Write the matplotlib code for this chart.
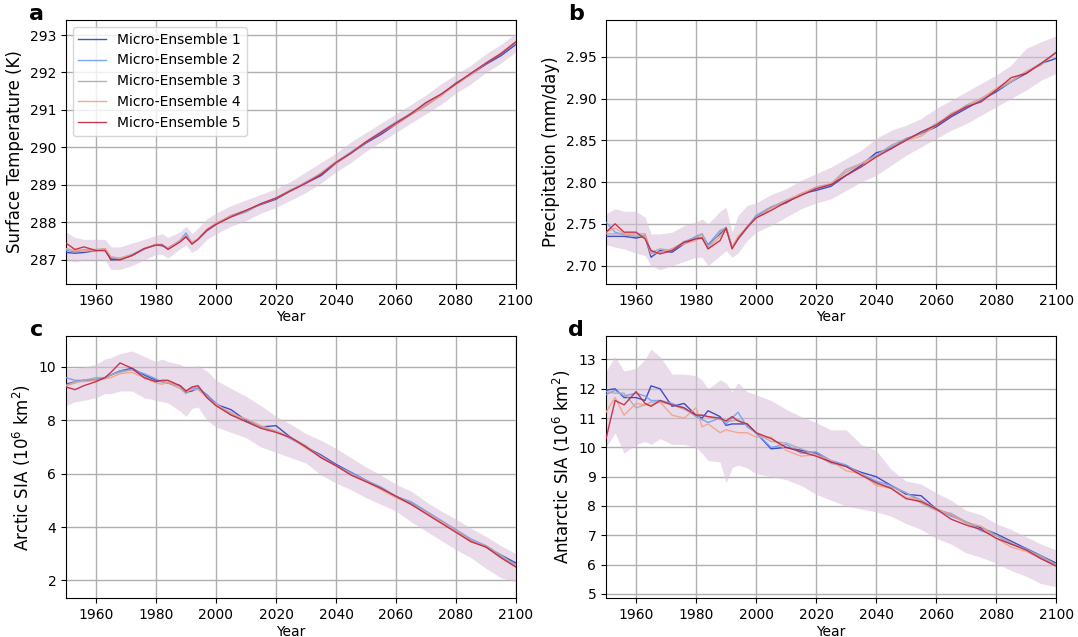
import matplotlib
matplotlib.use("Agg")
import matplotlib.pyplot as plt
import numpy as np

years = [1950, 1953, 1956, 1960, 1963, 1965, 1968, 1972, 1976, 1980, 1982, 1984, 1988, 1990,
         1992, 1994, 1997, 2000, 2005, 2010, 2015, 2020, 2025, 2030, 2035, 2040, 2045, 2050,
         2055, 2060, 2065, 2070, 2075, 2080, 2085, 2090, 2095, 2100]

labels = ["Micro-Ensemble 1", "Micro-Ensemble 2", "Micro-Ensemble 3",
          "Micro-Ensemble 4", "Micro-Ensemble 5"]

# ---- panel a: surface temperature (K)
tas_me1 = [287.20, 287.18, 287.20, 287.25, 287.28, 287.00, 287.02, 287.12, 287.30, 287.40, 287.38, 287.32, 287.50, 287.62, 287.45, 287.55, 287.78, 287.95, 288.18, 288.32, 288.48, 288.62, 288.85, 289.05, 289.25, 289.58, 289.85, 290.12, 290.35, 290.62, 290.88, 291.12, 291.40, 291.72, 291.95, 292.22, 292.45, 292.75]
tas_me2 = [287.25, 287.22, 287.25, 287.25, 287.30, 287.05, 287.02, 287.12, 287.28, 287.42, 287.40, 287.30, 287.52, 287.72, 287.45, 287.55, 287.80, 287.98, 288.15, 288.28, 288.50, 288.65, 288.85, 289.08, 289.30, 289.60, 289.88, 290.15, 290.42, 290.68, 290.90, 291.18, 291.42, 291.70, 291.95, 292.25, 292.50, 292.82]
tas_me3 = [287.30, 287.25, 287.28, 287.28, 287.30, 287.08, 287.05, 287.15, 287.30, 287.40, 287.42, 287.30, 287.50, 287.65, 287.45, 287.55, 287.80, 287.95, 288.15, 288.30, 288.50, 288.65, 288.88, 289.05, 289.32, 289.62, 289.85, 290.15, 290.40, 290.65, 290.92, 291.15, 291.40, 291.70, 291.98, 292.25, 292.52, 292.82]
tas_me4 = [287.30, 287.25, 287.25, 287.25, 287.30, 287.08, 287.05, 287.12, 287.30, 287.42, 287.40, 287.32, 287.50, 287.65, 287.48, 287.55, 287.82, 287.98, 288.18, 288.32, 288.50, 288.65, 288.85, 289.05, 289.30, 289.58, 289.85, 290.15, 290.40, 290.62, 290.88, 291.12, 291.38, 291.68, 291.95, 292.25, 292.52, 292.82]
tas_me5 = [287.45, 287.28, 287.35, 287.25, 287.25, 287.02, 287.00, 287.12, 287.30, 287.40, 287.40, 287.28, 287.48, 287.62, 287.42, 287.55, 287.80, 287.95, 288.15, 288.32, 288.50, 288.65, 288.85, 289.05, 289.28, 289.60, 289.85, 290.15, 290.40, 290.65, 290.90, 291.20, 291.42, 291.70, 291.98, 292.25, 292.50, 292.82]
tas_lo = [287.00, 286.95, 287.00, 287.00, 287.00, 286.75, 286.75, 286.85, 287.00, 287.15, 287.15, 287.05, 287.30, 287.40, 287.20, 287.30, 287.55, 287.70, 287.90, 288.05, 288.25, 288.40, 288.60, 288.80, 289.05, 289.35, 289.60, 289.90, 290.15, 290.40, 290.65, 290.90, 291.15, 291.45, 291.70, 292.00, 292.25, 292.55]
tas_hi = [287.75, 287.60, 287.55, 287.55, 287.55, 287.35, 287.35, 287.45, 287.55, 287.65, 287.70, 287.60, 287.75, 287.90, 287.70, 287.85, 288.10, 288.25, 288.45, 288.60, 288.75, 288.90, 289.10, 289.35, 289.60, 289.85, 290.15, 290.40, 290.65, 290.90, 291.15, 291.40, 291.70, 291.95, 292.20, 292.50, 292.75, 293.05]

# ---- panel b: precipitation (mm/day)
pr_me1 = [2.735, 2.735, 2.735, 2.733, 2.735, 2.710, 2.718, 2.716, 2.726, 2.733, 2.733, 2.725, 2.738, 2.745, 2.722, 2.732, 2.745, 2.758, 2.770, 2.775, 2.786, 2.790, 2.795, 2.808, 2.820, 2.835, 2.840, 2.852, 2.858, 2.866, 2.878, 2.888, 2.898, 2.908, 2.920, 2.930, 2.942, 2.948]
pr_me2 = [2.752, 2.740, 2.737, 2.735, 2.736, 2.715, 2.716, 2.720, 2.728, 2.735, 2.738, 2.725, 2.742, 2.745, 2.722, 2.733, 2.746, 2.760, 2.770, 2.778, 2.785, 2.792, 2.797, 2.812, 2.822, 2.832, 2.842, 2.850, 2.860, 2.868, 2.882, 2.890, 2.897, 2.910, 2.920, 2.932, 2.942, 2.955]
pr_me3 = [2.738, 2.738, 2.738, 2.738, 2.738, 2.716, 2.720, 2.718, 2.729, 2.733, 2.738, 2.722, 2.740, 2.746, 2.722, 2.732, 2.745, 2.758, 2.770, 2.776, 2.786, 2.794, 2.798, 2.815, 2.822, 2.832, 2.844, 2.852, 2.858, 2.870, 2.880, 2.892, 2.900, 2.910, 2.920, 2.932, 2.940, 2.956]
pr_me4 = [2.740, 2.745, 2.738, 2.736, 2.735, 2.714, 2.716, 2.720, 2.726, 2.730, 2.735, 2.720, 2.735, 2.744, 2.722, 2.735, 2.746, 2.757, 2.768, 2.778, 2.786, 2.793, 2.798, 2.812, 2.822, 2.830, 2.840, 2.850, 2.855, 2.868, 2.882, 2.890, 2.900, 2.912, 2.922, 2.932, 2.942, 2.955]
pr_me5 = [2.740, 2.750, 2.740, 2.740, 2.732, 2.718, 2.714, 2.718, 2.728, 2.732, 2.733, 2.720, 2.730, 2.745, 2.720, 2.732, 2.746, 2.757, 2.766, 2.776, 2.784, 2.792, 2.797, 2.808, 2.818, 2.830, 2.840, 2.850, 2.860, 2.868, 2.880, 2.890, 2.896, 2.910, 2.925, 2.930, 2.942, 2.955]
pr_lo = [2.725, 2.722, 2.720, 2.715, 2.712, 2.700, 2.695, 2.700, 2.705, 2.710, 2.710, 2.700, 2.712, 2.718, 2.710, 2.715, 2.730, 2.740, 2.748, 2.758, 2.768, 2.775, 2.780, 2.790, 2.800, 2.808, 2.820, 2.832, 2.842, 2.852, 2.862, 2.870, 2.880, 2.890, 2.900, 2.910, 2.922, 2.930]
pr_hi = [2.762, 2.768, 2.765, 2.765, 2.758, 2.738, 2.738, 2.740, 2.748, 2.752, 2.756, 2.750, 2.765, 2.770, 2.740, 2.760, 2.772, 2.775, 2.785, 2.792, 2.802, 2.810, 2.818, 2.828, 2.838, 2.852, 2.862, 2.868, 2.876, 2.888, 2.898, 2.908, 2.918, 2.928, 2.940, 2.960, 2.968, 2.975]

# ---- panel c: Arctic sea-ice area (10^6 km^2)
arc_me1 = [9.35, 9.45, 9.50, 9.50, 9.60, 9.70, 9.85, 9.95, 9.70, 9.50, 9.45, 9.40, 9.30, 9.05, 9.10, 9.20, 8.95, 8.60, 8.40, 8.00, 7.75, 7.80, 7.35, 7.00, 6.70, 6.35, 6.05, 5.75, 5.45, 5.15, 4.90, 4.55, 4.20, 3.85, 3.50, 3.25, 2.95, 2.65]
arc_me2 = [9.60, 9.50, 9.50, 9.55, 9.60, 9.70, 9.85, 9.90, 9.75, 9.55, 9.45, 9.40, 9.30, 9.10, 9.20, 9.20, 8.95, 8.65, 8.20, 8.05, 7.75, 7.60, 7.30, 7.00, 6.65, 6.30, 6.05, 5.75, 5.50, 5.15, 4.95, 4.60, 4.25, 3.90, 3.55, 3.30, 2.90, 2.60]
arc_me3 = [9.30, 9.40, 9.50, 9.60, 9.60, 9.70, 9.80, 9.90, 9.65, 9.45, 9.45, 9.40, 9.20, 9.00, 9.20, 9.25, 8.90, 8.55, 8.30, 7.95, 7.75, 7.60, 7.35, 7.05, 6.60, 6.30, 6.00, 5.75, 5.45, 5.15, 4.90, 4.55, 4.20, 3.85, 3.45, 3.30, 2.95, 2.55]
arc_me4 = [9.30, 9.45, 9.45, 9.50, 9.55, 9.60, 9.75, 9.80, 9.60, 9.40, 9.35, 9.45, 9.25, 9.10, 9.15, 9.15, 8.85, 8.60, 8.25, 8.05, 7.80, 7.60, 7.35, 6.95, 6.65, 6.30, 5.95, 5.70, 5.40, 5.10, 4.85, 4.55, 4.20, 3.85, 3.50, 3.25, 2.85, 2.50]
arc_me5 = [9.25, 9.15, 9.30, 9.45, 9.60, 9.80, 10.15, 9.95, 9.60, 9.45, 9.50, 9.50, 9.30, 9.10, 9.25, 9.30, 8.85, 8.55, 8.20, 7.95, 7.70, 7.55, 7.35, 7.00, 6.60, 6.30, 5.95, 5.70, 5.45, 5.15, 4.85, 4.50, 4.15, 3.80, 3.45, 3.25, 2.85, 2.50]
arc_lo = [8.55, 8.70, 8.75, 8.85, 9.00, 9.00, 9.10, 9.10, 8.85, 8.75, 8.70, 8.65, 8.35, 8.15, 8.45, 8.50, 8.00, 7.75, 7.55, 7.35, 7.00, 6.80, 6.60, 6.40, 5.95, 5.65, 5.40, 5.10, 4.85, 4.60, 4.20, 3.85, 3.50, 3.15, 2.85, 2.45, 2.10, 1.95]
arc_hi = [9.95, 9.95, 10.00, 10.10, 10.30, 10.35, 10.50, 10.60, 10.40, 10.20, 10.30, 10.20, 10.10, 10.00, 10.00, 10.05, 9.85, 9.50, 9.20, 8.90, 8.55, 8.15, 7.85, 7.50, 7.25, 6.95, 6.60, 6.25, 5.95, 5.60, 5.35, 4.95, 4.60, 4.30, 3.95, 3.65, 3.30, 3.00]

# ---- panel d: Antarctic sea-ice area (10^6 km^2)
ant_me1 = [11.95, 12.00, 11.70, 11.70, 11.60, 12.10, 12.00, 11.40, 11.50, 11.10, 11.00, 11.25, 11.05, 10.75, 10.80, 10.80, 10.80, 10.50, 9.95, 10.00, 9.90, 9.80, 9.50, 9.35, 9.15, 9.00, 8.70, 8.40, 8.35, 7.90, 7.70, 7.45, 7.25, 7.05, 6.80, 6.55, 6.30, 6.05]
ant_me2 = [11.80, 11.95, 11.75, 11.85, 11.75, 11.60, 11.60, 11.50, 11.35, 11.05, 10.95, 10.85, 11.00, 10.80, 11.00, 11.20, 10.70, 10.50, 10.00, 10.10, 9.80, 9.85, 9.55, 9.40, 9.10, 8.85, 8.70, 8.45, 8.20, 7.90, 7.65, 7.45, 7.15, 7.00, 6.70, 6.55, 6.25, 6.00]
ant_me3 = [11.90, 11.85, 11.85, 11.35, 11.45, 11.55, 11.55, 11.45, 11.30, 11.10, 11.10, 11.05, 10.95, 10.90, 10.90, 10.95, 10.75, 10.50, 10.20, 10.15, 9.95, 9.75, 9.45, 9.35, 9.10, 8.75, 8.65, 8.45, 8.10, 7.85, 7.75, 7.45, 7.30, 7.00, 6.75, 6.50, 6.30, 6.00]
ant_me4 = [11.20, 11.70, 11.10, 11.50, 11.45, 11.45, 11.55, 11.10, 11.00, 11.35, 10.70, 10.80, 10.50, 10.60, 10.55, 10.50, 10.50, 10.35, 10.35, 9.90, 9.70, 9.75, 9.55, 9.20, 9.10, 8.70, 8.60, 8.30, 8.20, 7.90, 7.70, 7.40, 7.30, 6.90, 6.60, 6.45, 6.20, 5.95]
ant_me5 = [10.30, 11.60, 11.45, 11.90, 11.50, 11.40, 11.60, 11.45, 11.35, 11.10, 11.10, 11.05, 11.00, 10.90, 11.05, 10.90, 10.80, 10.50, 10.30, 10.00, 9.85, 9.70, 9.50, 9.35, 9.05, 8.80, 8.60, 8.25, 8.15, 7.90, 7.55, 7.35, 7.20, 6.90, 6.70, 6.50, 6.20, 5.95]
ant_lo = [10.00, 10.50, 9.80, 10.10, 10.20, 10.10, 10.30, 10.10, 10.10, 10.00, 9.80, 9.55, 9.50, 8.80, 9.30, 9.40, 9.30, 9.10, 9.00, 8.90, 8.70, 8.40, 8.20, 8.00, 7.90, 7.80, 7.65, 7.40, 7.20, 6.90, 6.70, 6.40, 6.25, 6.05, 5.80, 5.60, 5.35, 5.25]
ant_hi = [12.60, 13.10, 12.60, 12.70, 13.00, 13.35, 13.10, 12.50, 12.50, 12.45, 12.30, 12.00, 12.30, 12.20, 11.90, 12.20, 11.90, 11.80, 11.60, 11.30, 11.05, 10.85, 10.60, 10.60, 10.10, 9.90, 9.25, 8.85, 8.75, 8.45, 8.20, 7.85, 7.70, 7.40, 7.20, 6.95, 6.70, 6.50]

line_colors = ["#2a3fc4", "#6f9cf7", "#aaaaaa", "#f4a184", "#c4233f"]

panels = [
    ("a", [tas_me1, tas_me2, tas_me3, tas_me4, tas_me5], tas_lo, tas_hi,
     "Surface Temperature (K)", (286.36, 293.4), [287, 288, 289, 290, 291, 292, 293]),
    ("b", [pr_me1, pr_me2, pr_me3, pr_me4, pr_me5], pr_lo, pr_hi,
     "Precipitation (mm/day)", (2.678, 2.994), [2.70, 2.75, 2.80, 2.85, 2.90, 2.95]),
    ("c", [arc_me1, arc_me2, arc_me3, arc_me4, arc_me5], arc_lo, arc_hi,
     r"Arctic SIA (10$^6$ km$^2$)", (1.34, 11.16), [2, 4, 6, 8, 10]),
    ("d", [ant_me1, ant_me2, ant_me3, ant_me4, ant_me5], ant_lo, ant_hi,
     r"Antarctic SIA (10$^6$ km$^2$)", (4.86, 13.8), [5, 6, 7, 8, 9, 10, 11, 12, 13]),
]

rects = [
    [0.0612, 0.5542, 0.4175, 0.4144],
    [0.5622, 0.5542, 0.4175, 0.4144],
    [0.0612, 0.0612, 0.4175, 0.4113],
    [0.5622, 0.0612, 0.4175, 0.4113],
]
letter_pos = [(0.027, 0.993), (0.527, 0.993), (0.028, 0.498), (0.527, 0.498)]

fig = plt.figure(figsize=(10.78, 6.37), dpi=100)
for (letter, series, lo, hi, ylabel, ylim, yticks), rect, lp in zip(panels, rects, letter_pos):
    ax = fig.add_axes(rect)
    ax.fill_between(years, lo, hi, color="thistle", alpha=0.55, linewidth=0, zorder=1)
    for s, c, lab in zip(series, line_colors, labels):
        ax.plot(years, s, color=c, lw=1.0, alpha=0.9, label=lab, zorder=3)
    ax.set_xlim(1950, 2100)
    ax.set_ylim(*ylim)
    ax.set_yticks(yticks)
    ax.set_xticks([1960, 1980, 2000, 2020, 2040, 2060, 2080, 2100])
    ax.grid(True, color="#b0b0b0", lw=1.0, zorder=0)
    ax.set_axisbelow(True)
    ax.tick_params(labelsize=10)
    ax.set_xlabel("Year", fontsize=10, labelpad=2)
    ax.set_ylabel(ylabel, fontsize=12)
    fig.text(lp[0], lp[1], letter, fontsize=16, fontweight="bold", va="top", ha="left")
    if letter == "a":
        ax.legend(loc="upper left", fontsize=10, framealpha=0.8)

fig.savefig("out.png", dpi=100)
